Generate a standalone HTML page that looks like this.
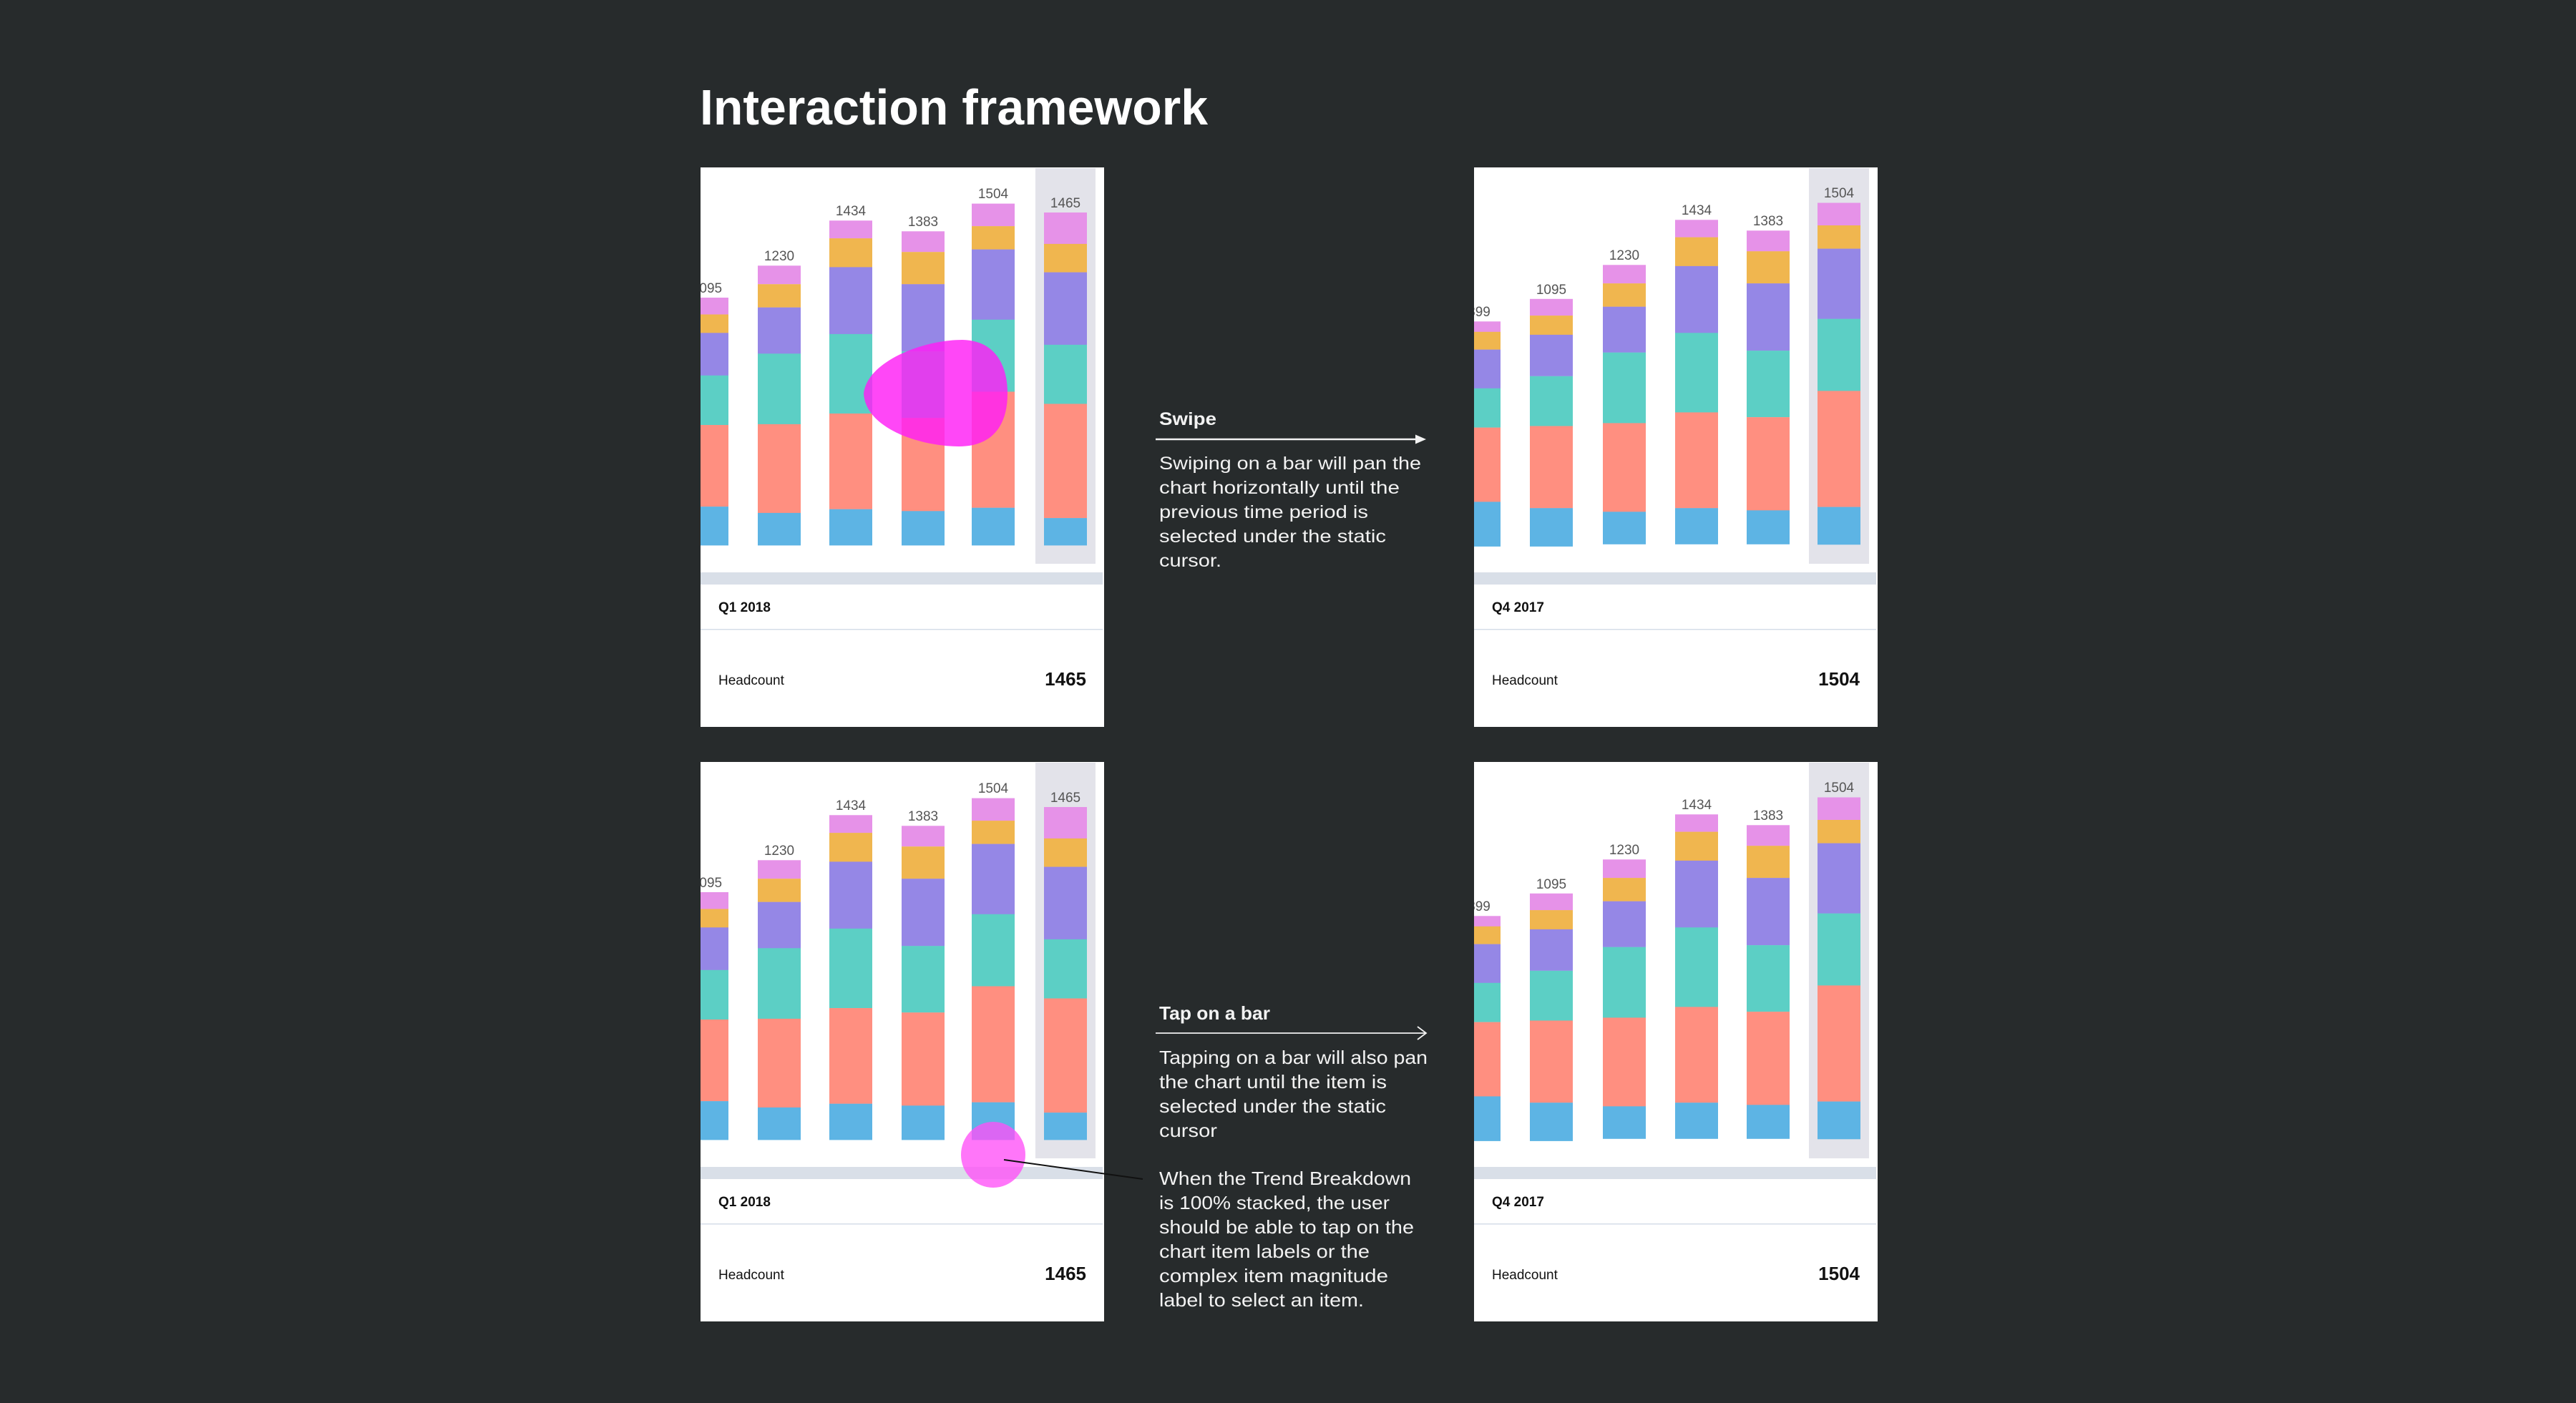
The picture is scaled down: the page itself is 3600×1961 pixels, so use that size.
<!DOCTYPE html>
<html><head><meta charset="utf-8"><style>
html,body{margin:0;padding:0;background:#272b2c;}
svg{display:block;}
text{font-family:"Liberation Sans",sans-serif;}
</style></head><body>
<svg width="3600" height="1961" viewBox="0 0 3600 1961" xmlns="http://www.w3.org/2000/svg">
<rect width="3600" height="1961" fill="#272b2c"/>
<defs>
<clipPath id="c1"><rect x="979" y="234" width="564" height="782"/></clipPath>
<clipPath id="c2"><rect x="2060" y="234" width="564" height="782"/></clipPath>
</defs>
<text x="978" y="174" font-size="70" font-weight="bold" fill="#fff" textLength="710" lengthAdjust="spacingAndGlyphs">Interaction framework</text>

<!-- ============ LEFT TOP CHART ============ -->
<g id="L">
<rect x="979" y="234" width="564" height="782" fill="#fff"/>
<g clip-path="url(#c1)">
<rect x="1447" y="235" width="84" height="553" fill="#e3e3ea"/>
<!-- bar1 -->
<rect x="958" y="416" width="60" height="24" fill="#e692e8"/><rect x="958" y="439.5" width="60" height="26" fill="#f0b64f"/><rect x="958" y="465.3" width="60" height="60" fill="#9587e6"/><rect x="958" y="524.8" width="60" height="69.5" fill="#5ccfc5"/><rect x="958" y="594" width="60" height="114.3" fill="#ff8f80"/><rect x="958" y="708.1" width="60" height="54.3" fill="#5db4e4"/>
<text x="988" y="409" font-size="19" fill="#555" text-anchor="middle">1095</text>
<!-- bar2 -->
<rect x="1059" y="371.3" width="60" height="26" fill="#e692e8"/><rect x="1059" y="397.2" width="60" height="32.7" fill="#f0b64f"/><rect x="1059" y="429.7" width="60" height="64.8" fill="#9587e6"/><rect x="1059" y="494.3" width="60" height="98.8" fill="#5ccfc5"/><rect x="1059" y="592.9" width="60" height="124.2" fill="#ff8f80"/><rect x="1059" y="716.9" width="60" height="45.5" fill="#5db4e4"/>
<text x="1089" y="364" font-size="19" fill="#555" text-anchor="middle">1230</text>
<!-- bar3 -->
<rect x="1159" y="308.3" width="60" height="25" fill="#e692e8"/><rect x="1159" y="333.1" width="60" height="40.5" fill="#f0b64f"/><rect x="1159" y="373.4" width="60" height="93.7" fill="#9587e6"/><rect x="1159" y="466.9" width="60" height="111.3" fill="#5ccfc5"/><rect x="1159" y="578" width="60" height="133.9" fill="#ff8f80"/><rect x="1159" y="711.7" width="60" height="50.7" fill="#5db4e4"/>
<text x="1189" y="301" font-size="19" fill="#555" text-anchor="middle">1434</text>
<!-- bar4 -->
<rect x="1260" y="323.3" width="60" height="29" fill="#e692e8"/><rect x="1260" y="352.2" width="60" height="45.2" fill="#f0b64f"/><rect x="1260" y="397.2" width="60" height="94.2" fill="#9587e6"/><rect x="1260" y="491.2" width="60" height="93.2" fill="#5ccfc5"/><rect x="1260" y="584.2" width="60" height="130.3" fill="#ff8f80"/><rect x="1260" y="714.3" width="60" height="48.1" fill="#5db4e4"/>
<text x="1290" y="316" font-size="19" fill="#555" text-anchor="middle">1383</text>
<!-- bar5 -->
<rect x="1358" y="284.6" width="60" height="31.7" fill="#e692e8"/><rect x="1358" y="316.1" width="60" height="32.7" fill="#f0b64f"/><rect x="1358" y="348.6" width="60" height="98.4" fill="#9587e6"/><rect x="1358" y="446.8" width="60" height="100.9" fill="#5ccfc5"/><rect x="1358" y="547.5" width="60" height="162.4" fill="#ff8f80"/><rect x="1358" y="709.7" width="60" height="52.7" fill="#5db4e4"/>
<text x="1388" y="277" font-size="19" fill="#555" text-anchor="middle">1504</text>
<!-- bar6 -->
<rect x="1459" y="297" width="60" height="44.1" fill="#e692e8"/><rect x="1459" y="340.9" width="60" height="39.9" fill="#f0b64f"/><rect x="1459" y="380.6" width="60" height="101.5" fill="#9587e6"/><rect x="1459" y="481.9" width="60" height="82.8" fill="#5ccfc5"/><rect x="1459" y="564.5" width="60" height="159.8" fill="#ff8f80"/><rect x="1459" y="724.1" width="60" height="38.3" fill="#5db4e4"/>
<text x="1489" y="290" font-size="19" fill="#555" text-anchor="middle">1465</text>
</g>
<rect x="979" y="800" width="562" height="17" fill="#d9dfe8"/>
<text x="1004" y="855" font-size="19" font-weight="bold" fill="#111">Q1 2018</text>
<rect x="979" y="879" width="562" height="1.5" fill="#d5dde8"/>
<text x="1004" y="957" font-size="19" fill="#111">Headcount</text>
<text x="1518" y="958" font-size="26" font-weight="bold" fill="#111" text-anchor="end">1465</text>
</g>

<!-- ============ RIGHT TOP CHART ============ -->
<rect x="2060" y="234" width="564" height="782" fill="#fff"/>
<g clip-path="url(#c2)">
<rect x="2528" y="235" width="84" height="553" fill="#e3e3ea"/>
<rect x="2037" y="449.3" width="60" height="14.7" fill="#e692e8"/><rect x="2037" y="463.8" width="60" height="25" fill="#f0b64f"/><rect x="2037" y="488.6" width="60" height="54.4" fill="#9587e6"/><rect x="2037" y="542.8" width="60" height="55" fill="#5ccfc5"/><rect x="2037" y="597.6" width="60" height="104" fill="#ff8f80"/><rect x="2037" y="701.4" width="60" height="62.5" fill="#5db4e4"/>
<text x="2067" y="442" font-size="19" fill="#555" text-anchor="middle">899</text>
<rect x="2138" y="417.8" width="60" height="23.5" fill="#e692e8"/><rect x="2138" y="441.1" width="60" height="27" fill="#f0b64f"/><rect x="2138" y="467.9" width="60" height="58" fill="#9587e6"/><rect x="2138" y="525.8" width="60" height="69.9" fill="#5ccfc5"/><rect x="2138" y="595.5" width="60" height="114.9" fill="#ff8f80"/><rect x="2138" y="710.2" width="60" height="53.7" fill="#5db4e4"/>
<text x="2168" y="411" font-size="19" fill="#555" text-anchor="middle">1095</text>
<rect x="2240" y="370.3" width="60" height="26" fill="#e692e8"/><rect x="2240" y="396.1" width="60" height="32.8" fill="#f0b64f"/><rect x="2240" y="428.7" width="60" height="64.2" fill="#9587e6"/><rect x="2240" y="492.7" width="60" height="98.9" fill="#5ccfc5"/><rect x="2240" y="591.4" width="60" height="124.1" fill="#ff8f80"/><rect x="2240" y="715.3" width="60" height="45.5" fill="#5db4e4"/>
<text x="2270" y="363" font-size="19" fill="#555" text-anchor="middle">1230</text>
<rect x="2341" y="307.3" width="60" height="24.5" fill="#e692e8"/><rect x="2341" y="331.6" width="60" height="40.5" fill="#f0b64f"/><rect x="2341" y="371.9" width="60" height="93.6" fill="#9587e6"/><rect x="2341" y="465.3" width="60" height="111.3" fill="#5ccfc5"/><rect x="2341" y="576.4" width="60" height="134" fill="#ff8f80"/><rect x="2341" y="710.2" width="60" height="50.6" fill="#5db4e4"/>
<text x="2371" y="300" font-size="19" fill="#555" text-anchor="middle">1434</text>
<rect x="2441" y="322.3" width="60" height="29.1" fill="#e692e8"/><rect x="2441" y="351.2" width="60" height="45.1" fill="#f0b64f"/><rect x="2441" y="396.1" width="60" height="94.2" fill="#9587e6"/><rect x="2441" y="490.1" width="60" height="93.2" fill="#5ccfc5"/><rect x="2441" y="583.1" width="60" height="130.4" fill="#ff8f80"/><rect x="2441" y="713.3" width="60" height="47.5" fill="#5db4e4"/>
<text x="2471" y="315" font-size="19" fill="#555" text-anchor="middle">1383</text>
<rect x="2540" y="283.5" width="60" height="31.7" fill="#e692e8"/><rect x="2540" y="315" width="60" height="32.8" fill="#f0b64f"/><rect x="2540" y="347.6" width="60" height="98.3" fill="#9587e6"/><rect x="2540" y="445.7" width="60" height="100.9" fill="#5ccfc5"/><rect x="2540" y="546.4" width="60" height="162.4" fill="#ff8f80"/><rect x="2540" y="708.6" width="60" height="52.7" fill="#5db4e4"/>
<text x="2570" y="276" font-size="19" fill="#555" text-anchor="middle">1504</text>
</g>
<rect x="2060" y="800" width="562" height="17" fill="#d9dfe8"/>
<text x="2085" y="855" font-size="19" font-weight="bold" fill="#111">Q4 2017</text>
<rect x="2060" y="879" width="562" height="1.5" fill="#d5dde8"/>
<text x="2085" y="957" font-size="19" fill="#111">Headcount</text>
<text x="2599" y="958" font-size="26" font-weight="bold" fill="#111" text-anchor="end">1504</text>

<!-- blob -->
<path d="M1207,550 C1212,505 1290,475 1345,475 C1392,476 1408,512 1408,550 C1408,600 1382,624 1340,624 C1288,624 1210,600 1207,550 Z" fill="#ff1ff5" fill-opacity="0.82"/>

<!-- ============ BOTTOM LEFT ============ -->
<g transform="translate(0,831)">
<rect x="979" y="234" width="564" height="782" fill="#fff"/>
<g clip-path="url(#c1)">
<rect x="1447" y="235" width="84" height="553" fill="#e3e3ea"/>
<rect x="958" y="416" width="60" height="24" fill="#e692e8"/><rect x="958" y="439.5" width="60" height="26" fill="#f0b64f"/><rect x="958" y="465.3" width="60" height="60" fill="#9587e6"/><rect x="958" y="524.8" width="60" height="69.5" fill="#5ccfc5"/><rect x="958" y="594" width="60" height="114.3" fill="#ff8f80"/><rect x="958" y="708.1" width="60" height="54.3" fill="#5db4e4"/>
<text x="988" y="409" font-size="19" fill="#555" text-anchor="middle">1095</text>
<rect x="1059" y="371.3" width="60" height="26" fill="#e692e8"/><rect x="1059" y="397.2" width="60" height="32.7" fill="#f0b64f"/><rect x="1059" y="429.7" width="60" height="64.8" fill="#9587e6"/><rect x="1059" y="494.3" width="60" height="98.8" fill="#5ccfc5"/><rect x="1059" y="592.9" width="60" height="124.2" fill="#ff8f80"/><rect x="1059" y="716.9" width="60" height="45.5" fill="#5db4e4"/>
<text x="1089" y="364" font-size="19" fill="#555" text-anchor="middle">1230</text>
<rect x="1159" y="308.3" width="60" height="25" fill="#e692e8"/><rect x="1159" y="333.1" width="60" height="40.5" fill="#f0b64f"/><rect x="1159" y="373.4" width="60" height="93.7" fill="#9587e6"/><rect x="1159" y="466.9" width="60" height="111.3" fill="#5ccfc5"/><rect x="1159" y="578" width="60" height="133.9" fill="#ff8f80"/><rect x="1159" y="711.7" width="60" height="50.7" fill="#5db4e4"/>
<text x="1189" y="301" font-size="19" fill="#555" text-anchor="middle">1434</text>
<rect x="1260" y="323.3" width="60" height="29" fill="#e692e8"/><rect x="1260" y="352.2" width="60" height="45.2" fill="#f0b64f"/><rect x="1260" y="397.2" width="60" height="94.2" fill="#9587e6"/><rect x="1260" y="491.2" width="60" height="93.2" fill="#5ccfc5"/><rect x="1260" y="584.2" width="60" height="130.3" fill="#ff8f80"/><rect x="1260" y="714.3" width="60" height="48.1" fill="#5db4e4"/>
<text x="1290" y="316" font-size="19" fill="#555" text-anchor="middle">1383</text>
<rect x="1358" y="284.6" width="60" height="31.7" fill="#e692e8"/><rect x="1358" y="316.1" width="60" height="32.7" fill="#f0b64f"/><rect x="1358" y="348.6" width="60" height="98.4" fill="#9587e6"/><rect x="1358" y="446.8" width="60" height="100.9" fill="#5ccfc5"/><rect x="1358" y="547.5" width="60" height="162.4" fill="#ff8f80"/><rect x="1358" y="709.7" width="60" height="52.7" fill="#5db4e4"/>
<text x="1388" y="277" font-size="19" fill="#555" text-anchor="middle">1504</text>
<rect x="1459" y="297" width="60" height="44.1" fill="#e692e8"/><rect x="1459" y="340.9" width="60" height="39.9" fill="#f0b64f"/><rect x="1459" y="380.6" width="60" height="101.5" fill="#9587e6"/><rect x="1459" y="481.9" width="60" height="82.8" fill="#5ccfc5"/><rect x="1459" y="564.5" width="60" height="159.8" fill="#ff8f80"/><rect x="1459" y="724.1" width="60" height="38.3" fill="#5db4e4"/>
<text x="1489" y="290" font-size="19" fill="#555" text-anchor="middle">1465</text>
</g>
<rect x="979" y="800" width="562" height="17" fill="#d9dfe8"/>
<text x="1004" y="855" font-size="19" font-weight="bold" fill="#111">Q1 2018</text>
<rect x="979" y="879" width="562" height="1.5" fill="#d5dde8"/>
<text x="1004" y="957" font-size="19" fill="#111">Headcount</text>
<text x="1518" y="958" font-size="26" font-weight="bold" fill="#111" text-anchor="end">1465</text>
</g>

<!-- ============ BOTTOM RIGHT ============ -->
<g transform="translate(0,831)">
<rect x="2060" y="234" width="564" height="782" fill="#fff"/>
<g clip-path="url(#c2)">
<rect x="2528" y="235" width="84" height="553" fill="#e3e3ea"/>
<rect x="2037" y="449.3" width="60" height="14.7" fill="#e692e8"/><rect x="2037" y="463.8" width="60" height="25" fill="#f0b64f"/><rect x="2037" y="488.6" width="60" height="54.4" fill="#9587e6"/><rect x="2037" y="542.8" width="60" height="55" fill="#5ccfc5"/><rect x="2037" y="597.6" width="60" height="104" fill="#ff8f80"/><rect x="2037" y="701.4" width="60" height="62.5" fill="#5db4e4"/>
<text x="2067" y="442" font-size="19" fill="#555" text-anchor="middle">899</text>
<rect x="2138" y="417.8" width="60" height="23.5" fill="#e692e8"/><rect x="2138" y="441.1" width="60" height="27" fill="#f0b64f"/><rect x="2138" y="467.9" width="60" height="58" fill="#9587e6"/><rect x="2138" y="525.8" width="60" height="69.9" fill="#5ccfc5"/><rect x="2138" y="595.5" width="60" height="114.9" fill="#ff8f80"/><rect x="2138" y="710.2" width="60" height="53.7" fill="#5db4e4"/>
<text x="2168" y="411" font-size="19" fill="#555" text-anchor="middle">1095</text>
<rect x="2240" y="370.3" width="60" height="26" fill="#e692e8"/><rect x="2240" y="396.1" width="60" height="32.8" fill="#f0b64f"/><rect x="2240" y="428.7" width="60" height="64.2" fill="#9587e6"/><rect x="2240" y="492.7" width="60" height="98.9" fill="#5ccfc5"/><rect x="2240" y="591.4" width="60" height="124.1" fill="#ff8f80"/><rect x="2240" y="715.3" width="60" height="45.5" fill="#5db4e4"/>
<text x="2270" y="363" font-size="19" fill="#555" text-anchor="middle">1230</text>
<rect x="2341" y="307.3" width="60" height="24.5" fill="#e692e8"/><rect x="2341" y="331.6" width="60" height="40.5" fill="#f0b64f"/><rect x="2341" y="371.9" width="60" height="93.6" fill="#9587e6"/><rect x="2341" y="465.3" width="60" height="111.3" fill="#5ccfc5"/><rect x="2341" y="576.4" width="60" height="134" fill="#ff8f80"/><rect x="2341" y="710.2" width="60" height="50.6" fill="#5db4e4"/>
<text x="2371" y="300" font-size="19" fill="#555" text-anchor="middle">1434</text>
<rect x="2441" y="322.3" width="60" height="29.1" fill="#e692e8"/><rect x="2441" y="351.2" width="60" height="45.1" fill="#f0b64f"/><rect x="2441" y="396.1" width="60" height="94.2" fill="#9587e6"/><rect x="2441" y="490.1" width="60" height="93.2" fill="#5ccfc5"/><rect x="2441" y="583.1" width="60" height="130.4" fill="#ff8f80"/><rect x="2441" y="713.3" width="60" height="47.5" fill="#5db4e4"/>
<text x="2471" y="315" font-size="19" fill="#555" text-anchor="middle">1383</text>
<rect x="2540" y="283.5" width="60" height="31.7" fill="#e692e8"/><rect x="2540" y="315" width="60" height="32.8" fill="#f0b64f"/><rect x="2540" y="347.6" width="60" height="98.3" fill="#9587e6"/><rect x="2540" y="445.7" width="60" height="100.9" fill="#5ccfc5"/><rect x="2540" y="546.4" width="60" height="162.4" fill="#ff8f80"/><rect x="2540" y="708.6" width="60" height="52.7" fill="#5db4e4"/>
<text x="2570" y="276" font-size="19" fill="#555" text-anchor="middle">1504</text>
</g>
<rect x="2060" y="800" width="562" height="17" fill="#d9dfe8"/>
<text x="2085" y="855" font-size="19" font-weight="bold" fill="#111">Q4 2017</text>
<rect x="2060" y="879" width="562" height="1.5" fill="#d5dde8"/>
<text x="2085" y="957" font-size="19" fill="#111">Headcount</text>
<text x="2599" y="958" font-size="26" font-weight="bold" fill="#111" text-anchor="end">1504</text>
</g>

<!-- tap circle + leader -->
<ellipse cx="1388" cy="1614" rx="45" ry="46" fill="#ff4ff7" fill-opacity="0.78"/>
<line x1="1403" y1="1621" x2="1597" y2="1648" stroke="#111" stroke-width="2"/>

<!-- Swipe annotation -->
<g fill="#f2f2f2">
<text x="1620" y="594" font-size="25" font-weight="bold" textLength="80" lengthAdjust="spacingAndGlyphs">Swipe</text>
<text x="1620" y="656" font-size="25" textLength="366" lengthAdjust="spacingAndGlyphs">Swiping on a bar will pan the</text>
<text x="1620" y="690" font-size="25" textLength="336" lengthAdjust="spacingAndGlyphs">chart horizontally until the</text>
<text x="1620" y="724" font-size="25" textLength="292" lengthAdjust="spacingAndGlyphs">previous time period is</text>
<text x="1620" y="758" font-size="25" textLength="317" lengthAdjust="spacingAndGlyphs">selected under the static</text>
<text x="1620" y="792" font-size="25" textLength="87" lengthAdjust="spacingAndGlyphs">cursor.</text>
</g>
<line x1="1615" y1="614" x2="1980" y2="614" stroke="#f2f2f2" stroke-width="2.5"/>
<polygon points="1978,607.5 1993,614 1978,620.5" fill="#f2f2f2"/>

<!-- Tap annotation -->
<g fill="#f2f2f2">
<text x="1620" y="1425" font-size="26" font-weight="bold" textLength="155" lengthAdjust="spacingAndGlyphs">Tap on a bar</text>
<text x="1620" y="1487" font-size="26" textLength="375" lengthAdjust="spacingAndGlyphs">Tapping on a bar will also pan</text>
<text x="1620" y="1521" font-size="26" textLength="318" lengthAdjust="spacingAndGlyphs">the chart until the item is</text>
<text x="1620" y="1555" font-size="26" textLength="317" lengthAdjust="spacingAndGlyphs">selected under the static</text>
<text x="1620" y="1589" font-size="26" textLength="81" lengthAdjust="spacingAndGlyphs">cursor</text>
<text x="1620" y="1656" font-size="26" textLength="352" lengthAdjust="spacingAndGlyphs">When the Trend Breakdown</text>
<text x="1620" y="1690" font-size="26" textLength="322" lengthAdjust="spacingAndGlyphs">is 100% stacked, the user</text>
<text x="1620" y="1724" font-size="26" textLength="356" lengthAdjust="spacingAndGlyphs">should be able to tap on the</text>
<text x="1620" y="1758" font-size="26" textLength="294" lengthAdjust="spacingAndGlyphs">chart item labels or the</text>
<text x="1620" y="1792" font-size="26" textLength="320" lengthAdjust="spacingAndGlyphs">complex item magnitude</text>
<text x="1620" y="1826" font-size="26" textLength="286" lengthAdjust="spacingAndGlyphs">label to select an item.</text>
</g>
<line x1="1615" y1="1444" x2="1992" y2="1444" stroke="#f2f2f2" stroke-width="1.8"/>
<polyline points="1981,1435 1993,1444 1981,1453" fill="none" stroke="#f2f2f2" stroke-width="1.8"/>
</svg>
</body></html>
